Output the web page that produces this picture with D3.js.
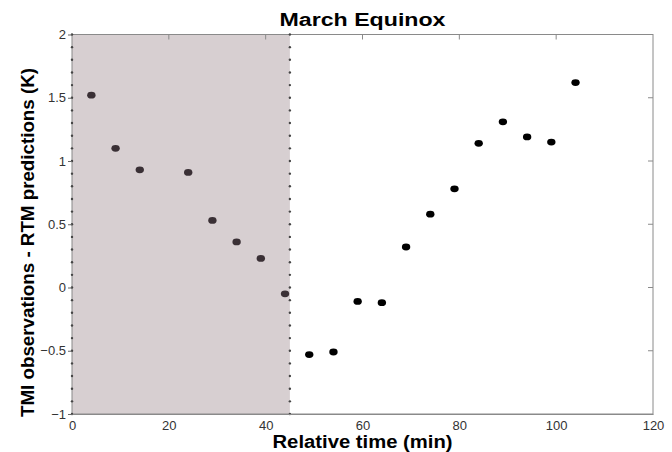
<!DOCTYPE html>
<html lang="en">
<head>
	<meta charset="UTF-8">
	<title>March Equinox</title>
	<style>
		body { margin: 0; background: #fff; }
		text { font-family: "Liberation Sans", Arial, sans-serif; }
	</style>
</head>
<body>
	<svg id="chart" width="672" height="452"></svg>
</body>
<script src="https://cdn.jsdelivr.net/npm/d3@7"></script>
<script>
	// relative time (min) and TMI - RTM difference (K)
	let times = [4, 9, 14, 24, 29, 34, 39, 44, 49, 54, 59, 64, 69, 74, 79, 84, 89, 94, 99, 104];
	let diffs = [1.52, 1.10, 0.93, 0.91, 0.53, 0.36, 0.23, -0.05, -0.53, -0.51, -0.11, -0.12, 0.32, 0.58, 0.78, 1.14, 1.31, 1.19, 1.15, 1.62];
	let xTicks = [0, 20, 40, 60, 80, 100, 120];
	let yTicks = [-1, -0.5, 0, 0.5, 1, 1.5, 2];
	let shadeEnd = 45;

	let svg = d3.select("#chart");
	let mLeft = 72, mRight = 653, mTop = 34.5, mBottom = 414;

	let x = d3.scaleLinear().domain([0, 120]).range([mLeft, mRight]);
	let y = d3.scaleLinear().domain([-1, 2]).range([mBottom, mTop]);

	// shaded night part
	svg.append("rect")
		.attr("x", x(0))
		.attr("y", y(2))
		.attr("width", x(shadeEnd) - x(0))
		.attr("height", y(-1) - y(2))
		.attr("fill", "#d7cfd1");

	// frame
	svg.append("rect")
		.attr("x", mLeft).attr("y", mTop)
		.attr("width", mRight - mLeft).attr("height", mBottom - mTop)
		.attr("fill", "none")
		.attr("stroke", "#8a8a8a")
		.attr("stroke-width", 1);

	// dotted lines at x=0 and x=45
	let minor = d3.range(-10, 21).map(d => d / 10);
	[0, shadeEnd].forEach(function(xv){
		svg.append("g")
			.selectAll("circle")
			.data(minor)
			.enter()
			.append("circle")
			.attr("cx", x(xv))
			.attr("cy", d => y(d))
			.attr("r", 1.2)
			.attr("fill", "#444");
	});

	// bottom axis
	let xAxis = svg.append("g")
		.attr("transform", `translate(0,${mBottom})`)
		.call(d3.axisBottom(x).tickValues(xTicks).tickSize(0).tickPadding(7));
	xAxis.select(".domain").attr("stroke", "#8a8a8a");
	xAxis.selectAll("text").attr("font-size", 13).attr("fill", "#333")
		.style("font-family", "'Liberation Sans', Arial, sans-serif");

	// top ticks inward
	svg.append("g")
		.selectAll("line")
		.data(xTicks.slice(1, -1))
		.enter()
		.append("line")
		.attr("x1", d => x(d)).attr("x2", d => x(d))
		.attr("y1", mTop).attr("y2", mTop + 5)
		.attr("stroke", "#8a8a8a");

	// left axis
	let yAxis = svg.append("g")
		.attr("transform", `translate(${mLeft},0)`)
		.call(d3.axisLeft(y).tickValues(yTicks).tickSize(4).tickPadding(2).tickFormat(d3.format("")));
	yAxis.select(".domain").remove();
	yAxis.selectAll("line").attr("stroke", "#666");
	yAxis.selectAll("text").attr("font-size", 13).attr("fill", "#333")
		.style("font-family", "'Liberation Sans', Arial, sans-serif");

	// right ticks inward
	svg.append("g")
		.selectAll("line")
		.data(yTicks.slice(1, -1))
		.enter()
		.append("line")
		.attr("x1", mRight - 5).attr("x2", mRight)
		.attr("y1", d => y(d)).attr("y2", d => y(d))
		.attr("stroke", "#8a8a8a");

	// points
	svg.append("g")
		.selectAll("ellipse")
		.data(times)
		.enter()
		.append("ellipse")
		.attr("cx", d => x(d))
		.attr("cy", (d, i) => y(diffs[i]))
		.attr("rx", 4.2)
		.attr("ry", 3.4)
		.attr("fill", d => d < shadeEnd ? "#3a3035" : "#000");

	// titles
	svg.append("text")
		.attr("x", (mLeft + mRight) / 2).attr("y", 26)
		.attr("text-anchor", "middle")
		.attr("font-size", 18).attr("font-weight", "bold")
		.attr("textLength", 166).attr("lengthAdjust", "spacingAndGlyphs")
		.text("March Equinox");

	svg.append("text")
		.attr("x", (mLeft + mRight) / 2).attr("y", 448)
		.attr("text-anchor", "middle")
		.attr("font-size", 18).attr("font-weight", "bold")
		.attr("textLength", 180).attr("lengthAdjust", "spacingAndGlyphs")
		.text("Relative time (min)");

	svg.append("text")
		.attr("transform", "translate(34,242.5) rotate(-90)")
		.attr("text-anchor", "middle")
		.attr("font-size", 18).attr("font-weight", "bold")
		.attr("textLength", 349).attr("lengthAdjust", "spacingAndGlyphs")
		.text("TMI observations - RTM predictions (K)");
</script>
</html>
